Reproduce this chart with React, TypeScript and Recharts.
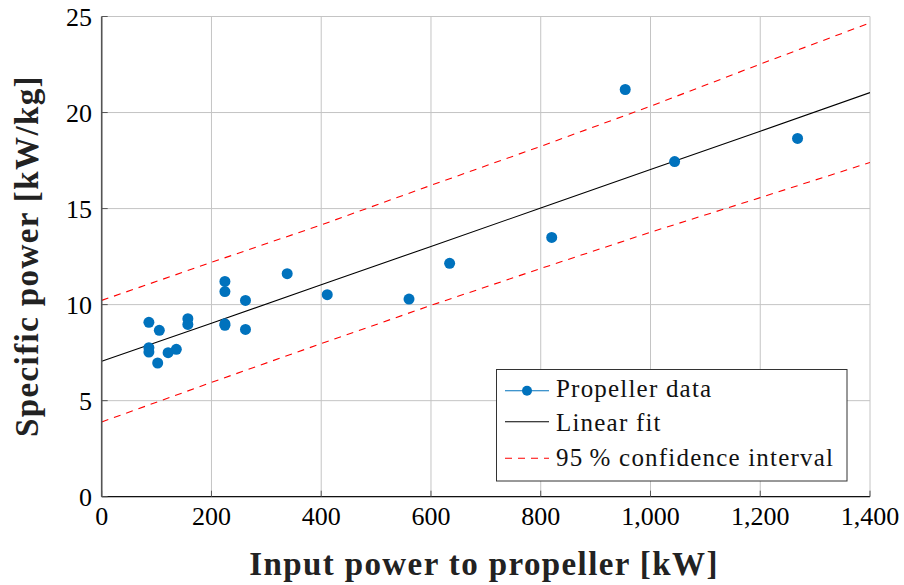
import React from 'react';
import { ComposedChart, Scatter, Line, XAxis, YAxis, CartesianGrid, Label } from 'recharts';

// Propeller data: input power [kW] vs specific power [kW/kg]
const powerKW = [86, 86, 86, 102, 105, 121, 136, 157, 157, 224.5, 224.5, 224.5, 224.5, 262, 262, 338, 411, 560, 634, 820, 954, 1044, 1268];
const specificPower = [9.08, 7.76, 7.53, 6.96, 8.66, 7.5, 7.67, 9.27, 8.97, 11.21, 10.68, 9.0, 8.92, 10.22, 8.71, 11.61, 10.52, 10.29, 12.15, 13.5, 21.2, 17.45, 18.65];

// Linear fit and 95 % confidence interval, read at the grid positions
const curveX = [0, 200, 400, 600, 800, 1000, 1200, 1400];
const fitY = [7.05, 9.03, 11.03, 13.03, 15.03, 17.03, 19.03, 21.04];
const upperY = [10.22, 12.2, 14.15, 16.21, 18.24, 20.33, 22.52, 24.67];
const lowerY = [3.89, 5.95, 7.97, 9.96, 11.88, 13.77, 15.57, 17.4];

const xTicks = [0, 200, 400, 600, 800, 1000, 1200, 1400];
const yTicks = [0, 5, 10, 15, 20, 25];

const xTitle = 'Input power to propeller [kW]';
const yTitle = 'Specific power [kW/kg]';
const legendLabels = ['Propeller data', 'Linear fit', '95\u2009% confidence interval'];

const points = powerKW.map((x, i) => ({ x, y: specificPower[i] }));
const fitData = curveX.map((x, i) => ({ x, y: fitY[i] }));
const upperData = curveX.map((x, i) => ({ x, y: upperY[i] }));
const lowerData = curveX.map((x, i) => ({ x, y: lowerY[i] }));

const FONT = "'Liberation Serif', 'Times New Roman', serif";
const BLUE = '#0072BD';
const RED = '#ff0000';

const fmt = (v: number) => v.toLocaleString('en-US');

const tickStyle = { fontFamily: FONT, fontSize: 26, fill: '#000' };

const Dot = (props: any) => <circle cx={props.cx} cy={props.cy} r={5.5} fill={BLUE} />;

export default function App() {
  return (
    <div style={{ position: 'absolute', left: 0, top: 0, width: 904, height: 585, background: '#fff' }}>
      <ComposedChart
        width={904}
        height={585}
        margin={{ top: 16.5, right: 34, bottom: 28.3, left: 41.7 }}
      >
        <CartesianGrid stroke="#c4c4c4" strokeWidth={1} />
        <XAxis
          xAxisId={0}
          type="number"
          dataKey="x"
          domain={[0, 1400]}
          ticks={xTicks}
          tickFormatter={fmt}
          allowDataOverflow
          height={60}
          tickSize={-6}
          tickMargin={15.8}
          tickLine={{ stroke: '#555' }}
          axisLine={{ stroke: '#111', strokeWidth: 1.2 }}
          tick={tickStyle}
        >
          <Label
            content={() => (
              <text x={484} y={575} textAnchor="middle" fontFamily={FONT} fontWeight="bold" fontSize={33} letterSpacing={1.4} fill="#222">
                {xTitle}
              </text>
            )}
          />
        </XAxis>
        <XAxis
          xAxisId="top"
          orientation="top"
          type="number"
          dataKey="x"
          domain={[0, 1400]}
          ticks={xTicks}
          allowDataOverflow
          height={0}
          tickSize={-6}
          tickFormatter={() => ''}
          tickLine={{ stroke: '#555' }}
          axisLine={{ stroke: '#555', strokeWidth: 1.2 }}
        />
        <YAxis
          yAxisId={0}
          type="number"
          dataKey="y"
          domain={[0, 25]}
          ticks={yTicks}
          allowDataOverflow
          width={60}
          tickSize={-6}
          tickMargin={15.7}
          tickLine={{ stroke: '#555' }}
          axisLine={{ stroke: '#555', strokeWidth: 1.6 }}
          tick={tickStyle}
        >
          <Label
            content={() => (
              <text
                x={38}
                y={256}
                transform="rotate(-90 38 256)"
                textAnchor="middle"
                fontFamily={FONT}
                fontWeight="bold"
                fontSize={33}
                letterSpacing={1.4}
                fill="#222"
              >
                {yTitle}
              </text>
            )}
          />
        </YAxis>
        <YAxis
          yAxisId="right"
          orientation="right"
          type="number"
          dataKey="y"
          domain={[0, 25]}
          ticks={yTicks}
          allowDataOverflow
          width={0}
          tickSize={-6}
          tickFormatter={() => ''}
          tickLine={{ stroke: '#555' }}
          axisLine={{ stroke: '#111', strokeWidth: 1.2 }}
        />
        <Line data={upperData} dataKey="y" type="linear" stroke={RED} strokeWidth={1.1} strokeDasharray="7 6" dot={false} activeDot={false} isAnimationActive={false} />
        <Line data={lowerData} dataKey="y" type="linear" stroke={RED} strokeWidth={1.1} strokeDasharray="7 6" dot={false} activeDot={false} isAnimationActive={false} />
        <Line data={fitData} dataKey="y" type="linear" stroke="#000" strokeWidth={1.1} dot={false} activeDot={false} isAnimationActive={false} />
        <Scatter data={points} fill={BLUE} shape={Dot} isAnimationActive={false} />
      </ComposedChart>

      <svg
        width={352}
        height={113}
        style={{ position: 'absolute', left: 496, top: 369 }}
      >
        <rect x={0.5} y={0.5} width={350.5} height={111.5} fill="#fff" stroke="#333" strokeWidth={1} />
        <line x1={9} y1={21.7} x2={53} y2={21.7} stroke={BLUE} strokeWidth={1.1} />
        <circle cx={31} cy={21.7} r={5} fill={BLUE} />
        <line x1={9} y1={52.7} x2={53} y2={52.7} stroke="#000" strokeWidth={1.1} />
        <line x1={9} y1={89.3} x2={53} y2={89.3} stroke={RED} strokeWidth={1.1} strokeDasharray="7 6" />
        <text x={60} y={27.7} fontFamily={FONT} fontSize={25} letterSpacing={1.2} fill="#111">{legendLabels[0]}</text>
        <text x={60} y={62} fontFamily={FONT} fontSize={25} letterSpacing={1.2} fill="#111">{legendLabels[1]}</text>
        <text x={60} y={97} fontFamily={FONT} fontSize={25} letterSpacing={1.2} fill="#111">{legendLabels[2]}</text>
      </svg>
    </div>
  );
}
